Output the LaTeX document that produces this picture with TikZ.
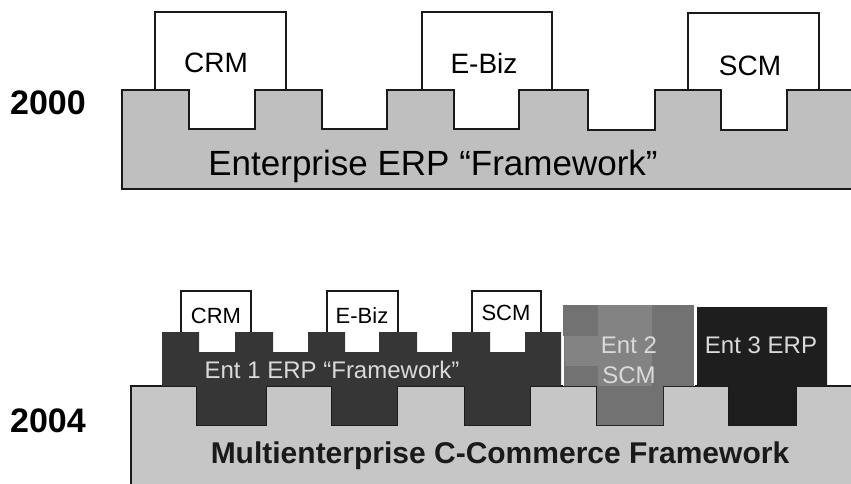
\documentclass[tikz,border=0pt]{standalone}
\usepackage{fontspec}
\setmainfont{Liberation Sans}
\definecolor{baselight}{HTML}{BFBFBF}
\definecolor{baselight2}{HTML}{C6C6C6}
\definecolor{entone}{HTML}{363636}
\definecolor{enttwo}{HTML}{727272}
\definecolor{enttwolite}{HTML}{838383}
\definecolor{entthree}{HTML}{1E1E1E}
\definecolor{paletext}{HTML}{DADADA}
\definecolor{inkline}{HTML}{1A1A1A}
\tikzset{
  appbox/.style={draw=inkline, line width=1.4pt, fill=white},
  baseshape/.style={draw=inkline, line width=1.8pt, line join=miter},
  yearlabel/.style={font=\bfseries\fontsize{34}{36}\selectfont, text=black},
  biglabel/.style={font=\fontsize{28}{30}\selectfont, text=black},
  smalllabel/.style={font=\fontsize{22}{24}\selectfont, text=black},
  entlabel/.style={font=\fontsize{24}{26}\selectfont, text=paletext, align=center},
}
\begin{document}
\begin{tikzpicture}[x=1pt, y=-1pt]
\useasboundingbox (0,0) rectangle (851,483);
\clip (0,0) rectangle (851,483);
\fill[white] (0,0) rectangle (851,483);

% ---------- 2000: single enterprise framework ----------
\filldraw[appbox] (155,90) -- (155,12) -- (286,12) -- (286,90);
\filldraw[appbox] (422,90) -- (422,12) -- (552,12) -- (552,90);
\filldraw[appbox] (688,90) -- (688,13) -- (819,13) -- (819,90);

\draw[baseshape, fill=baselight]
  (122,90) -- (189,90) -- (189,129) -- (255,129) -- (255,90)
  -- (322,90) -- (322,129) -- (387,129) -- (387,90)
  -- (454,90) -- (454,129) -- (519,129) -- (519,90)
  -- (588,90) -- (588,130) -- (655,130) -- (655,90)
  -- (721,90) -- (721,130) -- (787,130) -- (787,90)
  -- (860,90) -- (860,189) -- (122,189) -- cycle;

\node[biglabel] (crmtop) at (216,63) {CRM};
\node[biglabel] (ebiztop) at (484,63) {E-Biz};
\node[biglabel] (scmtop) at (750,66) {SCM};
\node[font=\fontsize{35}{37}\selectfont] (erptop) at (433,166) {Enterprise ERP “Framework”};
\node[yearlabel] (y2000) at (48,103) {2000};

% ---------- 2004: multienterprise framework ----------
\draw[baseshape, fill=baselight2]
  (131,386) -- (197,386) -- (197,425) -- (266,425) -- (266,386)
  -- (332,386) -- (332,425) -- (397,425) -- (397,386)
  -- (465,386) -- (465,425) -- (530,425) -- (530,386)
  -- (597,386) -- (597,425) -- (663,425) -- (663,386)
  -- (729,386) -- (729,425) -- (796,425) -- (796,386)
  -- (860,386) -- (860,495) -- (131,495) -- cycle;

% Enterprise 1 framework with its three applications
\filldraw[appbox, line width=1.2pt] (181,333) -- (181,291) -- (251,291) -- (251,333);
\filldraw[appbox, line width=1.2pt] (327,333) -- (327,291) -- (398,291) -- (398,333);
\filldraw[appbox, line width=1.2pt] (472,333) -- (472,291) -- (541,291) -- (541,333);
\fill[entone]
  (162,332) -- (199,332) -- (199,352) -- (235,352) -- (235,332)
  -- (273,332) -- (273,352) -- (308,352) -- (308,332)
  -- (345,332) -- (345,352) -- (379,352) -- (379,332)
  -- (417,332) -- (417,352) -- (452,352) -- (452,332)
  -- (490,332) -- (490,352) -- (525,352) -- (525,332)
  -- (561,332) -- (561,386) -- (530,386) -- (530,425) -- (465,425)
  -- (465,386) -- (397,386) -- (397,425) -- (332,425) -- (332,386)
  -- (266,386) -- (266,425) -- (197,425) -- (197,386) -- (162,386) -- cycle;

% Enterprise 2 supply chain block
\fill[enttwo] (563,305) -- (694,305) -- (694,386) -- (663,386) -- (663,425)
  -- (597,425) -- (597,386) -- (563,386) -- cycle;
\fill[enttwolite] (598,305) rectangle (652,386);
\fill[enttwolite] (565,336) rectangle (598,366);
\draw[white, line width=0.6pt] (563.5,336) -- (563.5,386);
\draw[white, line width=0.6pt] (694.5,305) -- (694.5,386);

% Enterprise 3 ERP block
\fill[entthree] (697,307) -- (827,307) -- (827,386) -- (796,386) -- (796,425)
  -- (729,425) -- (729,386) -- (697,386) -- cycle;

\node[smalllabel] (crmbot) at (216,316) {CRM};
\node[smalllabel] (ebizbot) at (362,316) {E-Biz};
\node[smalllabel] (scmbot) at (506,313) {SCM};
\node[entlabel] (ent1) at (332,370) {Ent 1 ERP “Framework”};
\node[entlabel, font=\fontsize{24}{30}\selectfont] (ent2) at (629,360) {Ent 2\\SCM};
\node[entlabel] (ent3) at (761,345) {Ent 3 ERP};
\node[font=\bfseries\fontsize{30}{32}\selectfont, text=inkline] (multi) at (500,456) {Multienterprise C-Commerce Framework};
\node[yearlabel] (y2004) at (48,421) {2004};
\end{tikzpicture}
\end{document}
